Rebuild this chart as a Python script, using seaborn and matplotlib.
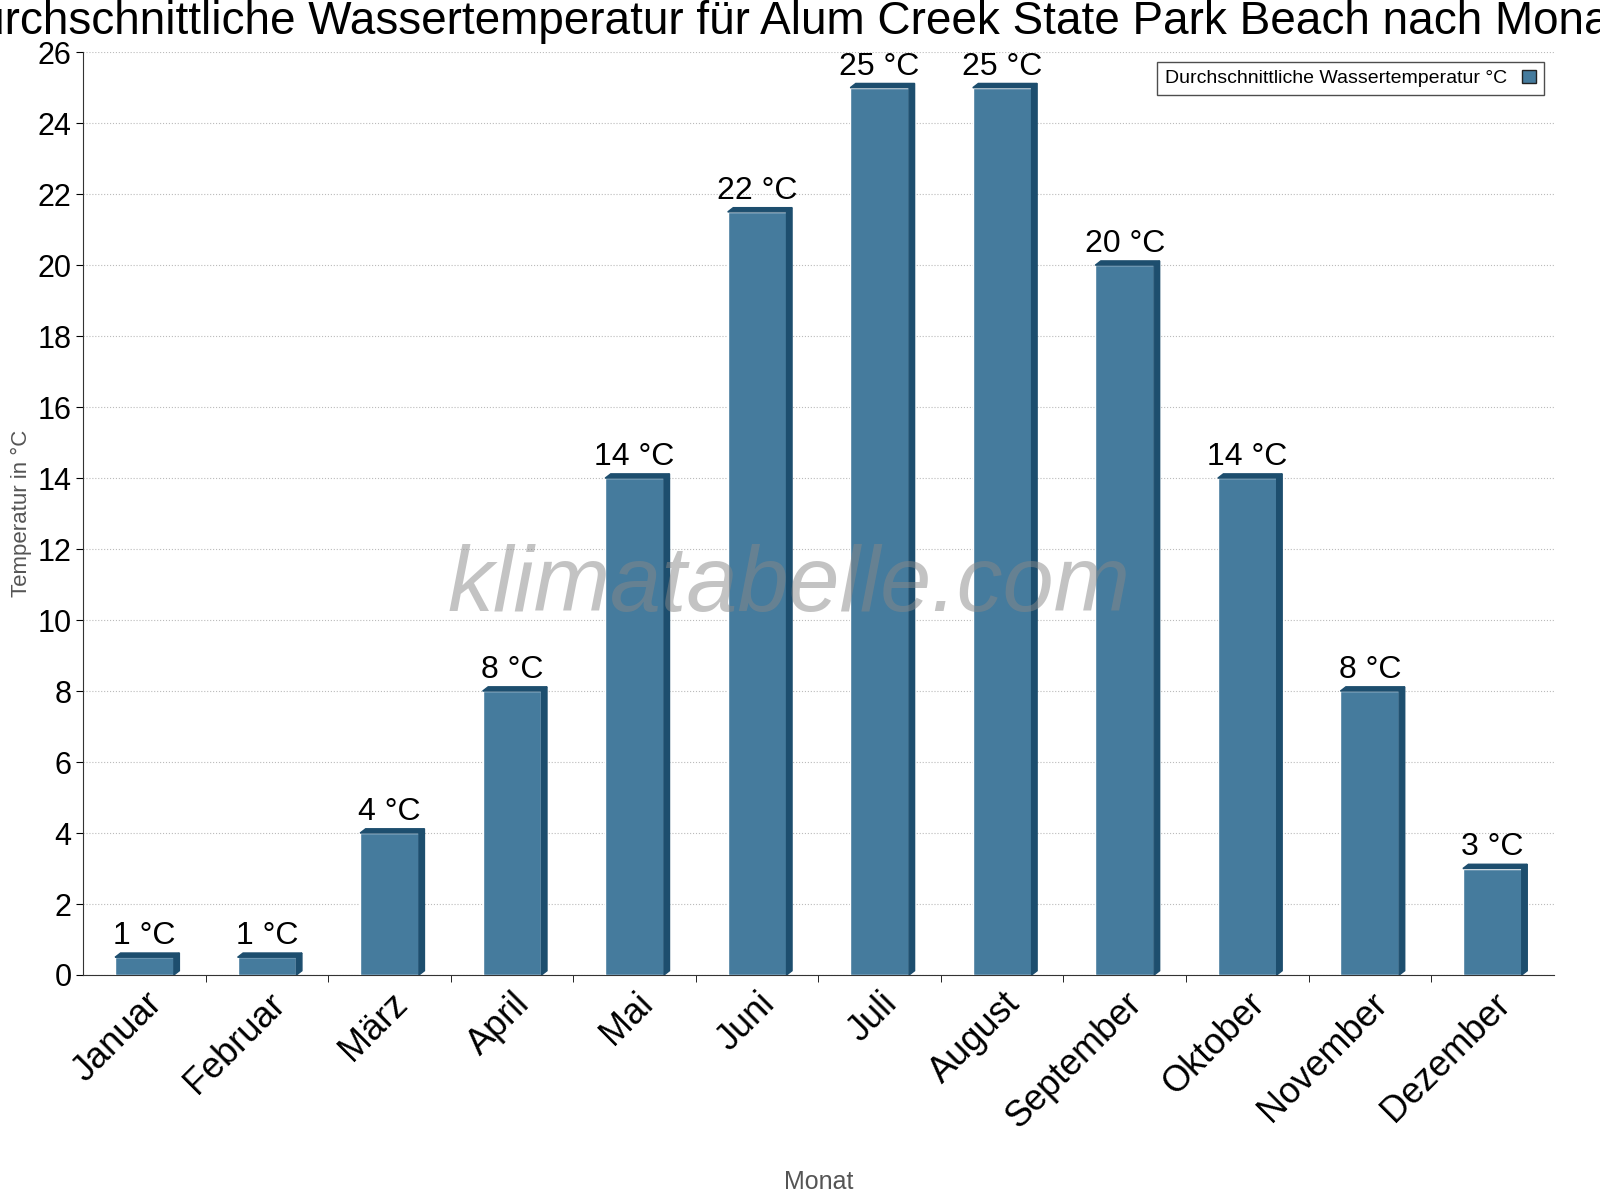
import matplotlib
matplotlib.use("Agg")
import matplotlib.pyplot as plt
import seaborn as sns
import pandas as pd
from matplotlib.patches import Polygon, Patch
from matplotlib.ticker import FixedLocator

months = ["Januar","Februar","März","April","Mai","Juni","Juli","August","September","Oktober","November","Dezember"]
temps = [0.5,0.5,4,8,14,21.5,25,25,20,14,8,3]
labels = ["1 °C","1 °C","4 °C","8 °C","14 °C","22 °C","25 °C","25 °C","20 °C","14 °C","8 °C","3 °C"]

sns.set_style("white")
plt.rcParams['font.family'] = ['Liberation Sans', 'DejaVu Sans']
plt.rcParams['text.color'] = 'black'
plt.rcParams['xtick.color'] = 'black'
plt.rcParams['ytick.color'] = 'black'
fig = plt.figure(figsize=(16, 12), dpi=100)
ax = fig.add_axes([0.052, 0.1875, 0.919, 0.769])
df = pd.DataFrame({"Monat": months, "T": temps})
face = "#457b9d"; dark = "#1d4e6e"
sns.barplot(data=df, x="Monat", y="T", color=face, width=0.48, saturation=1, ax=ax, zorder=3)
ax.set_ylim(0, 26); ax.set_xlim(-0.5, 11.5)
dx, dy = 0.045, 0.12
for p, lab in zip(ax.patches, labels):
    x0, w, h = p.get_x(), p.get_width(), p.get_height()
    ax.add_patch(Polygon([(x0+w, 0), (x0+w+dx, dy), (x0+w+dx, h+dy), (x0+w, h)], closed=True, color=dark, zorder=3))
    ax.add_patch(Polygon([(x0, h), (x0+dx, h+dy), (x0+w+dx, h+dy), (x0+w, h)], closed=True, color=dark, zorder=3))
    ax.text(x0+w/2, h+dy+0.05, lab, ha="center", va="bottom", fontsize=23, zorder=4)
ax.set_yticks(range(0, 27, 2))
ax.tick_params(axis="y", labelsize=22, length=5, left=True)
ax.tick_params(axis="x", labelsize=26, length=0, rotation=45, pad=8)
for t in ax.get_xticklabels():
    t.set_ha("right"); t.set_rotation_mode("anchor")
ax.xaxis.set_minor_locator(FixedLocator([i+0.5 for i in range(11)]))
ax.tick_params(axis="x", which="minor", length=5, bottom=True)
ax.grid(axis="y", linestyle=":", color="#bbbbbb", zorder=0)
for s in ["top", "right"]:
    ax.spines[s].set_visible(False)
for s in ["left", "bottom"]:
    ax.spines[s].set_color("#333333")
ax.set_xlabel("Monat", fontsize=18, color="#555555", labelpad=25)
ax.set_ylabel("Temperatur in °C", fontsize=16, color="#555555")
ax.legend(handles=[Patch(facecolor=face, edgecolor="#222222", label="Durchschnittliche Wassertemperatur °C")],
          loc="upper right", markerfirst=False, fontsize=14, fancybox=False, edgecolor="#222222",
          handlelength=0.7, handleheight=0.7, bbox_to_anchor=(1.0, 1.0))
ax.text(0.48, 0.42, "klimatabelle.com", transform=ax.transAxes, ha="center", va="center",
        fontsize=66, style="italic", color="#888888", alpha=0.5, zorder=5)
fig.text(0.49, 1.0, "Durchschnittliche Wassertemperatur für Alum Creek State Park Beach nach Monat",
         ha="center", va="top", fontsize=33)
fig.savefig("out.png", dpi=100)
